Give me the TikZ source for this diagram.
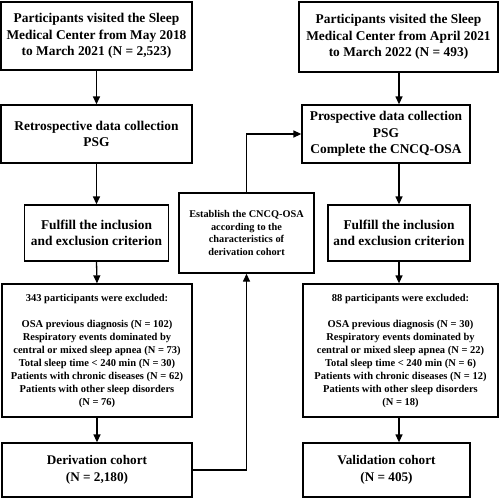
\documentclass[tikz,border=0pt]{standalone}
\usepackage{fontspec}
\setmainfont{Liberation Serif}
\usetikzlibrary{arrows.meta}
\begin{document}
\begin{tikzpicture}[x=1pt,y=-1pt,
  box/.style={draw,line width=1.3pt,align=center,inner sep=0pt,font=\bfseries},
  big/.style={font=\fontsize{13.4}{16.3}\selectfont\bfseries},
  small/.style={font=\fontsize{10.5}{13}\selectfont\bfseries},
  tiny/.style={font=\fontsize{10.3}{12.9}\selectfont\bfseries},
  huge/.style={font=\fontsize{13.2}{17}\selectfont\bfseries},
  arr/.style={line width=1.3pt,-{Triangle[length=8pt,width=7pt]}}]
\useasboundingbox (0,0) rectangle (500,498);
\node[box,big,minimum width=191,minimum height=68] (b1) at (96.5,36) {Participants visited the Sleep\\Medical Center from May 2018\\to March 2021 (N = 2,523)};
\node[box,big,minimum width=191,minimum height=58] (b2) at (96.5,134) {Retrospective data collection\\PSG};
\node[box,big,minimum width=144,minimum height=56] (b3) at (96.5,233) {Fulfill the inclusion\\and exclusion criterion};
\node[box,small,minimum width=190,minimum height=133] (b4) at (97,350.5) {343 participants were excluded:\\[13pt]OSA previous diagnosis (N = 102)\\Respiratory events dominated by\\central or mixed sleep apnea (N = 73)\\Total sleep time < 240 min (N = 30)\\Patients with chronic diseases (N = 62)\\Patients with other sleep disorders\\(N = 76)};
\node[box,huge,minimum width=190,minimum height=54] (b5) at (97,470) {Derivation cohort\\(N = 2,180)};
\node[box,tiny,minimum width=135,minimum height=80] (m) at (246.5,233) {Establish the CNCQ-OSA\\according to the\\characteristics of\\derivation cohort};
\node[box,big,minimum width=199,minimum height=70] (r1) at (398.5,37) {Participants visited the Sleep\\Medical Center from April 2021\\to March 2022 (N = 493)};
\node[box,big,minimum width=168,minimum height=58] (r2) at (386,134) {Prospective data collection\\PSG\\Complete the CNCQ-OSA};
\node[box,big,minimum width=142,minimum height=56] (r3) at (399,233) {Fulfill the inclusion\\and exclusion criterion};
\node[box,small,minimum width=195,minimum height=133] (r4) at (400.5,350.5) {88 participants were excluded:\\[13pt]OSA previous diagnosis (N = 30)\\Respiratory events dominated by\\central or mixed sleep apnea (N = 22)\\Total sleep time < 240 min (N = 6)\\Patients with chronic diseases (N = 12)\\Patients with other sleep disorders\\(N = 18)};
\node[box,huge,minimum width=167,minimum height=54] (r5) at (386.5,470) {Validation cohort\\(N = 405)};
\draw[arr] (b1.south) -- (b2.north);
\draw[arr] (b2.south) -- (b3.north);
\draw[arr] (b3.south) -- (b4.north);
\draw[arr] (b4.south) -- (b5.north);
\draw[arr] (r3.north |- r1.south) -- (r3.north |- r2.north);
\draw[arr] (r3.north |- r2.south) -- (r3.north);
\draw[arr] (r3.south) -- (r3.south |- r4.north);
\draw[arr] (r3.south |- r4.south) -- (r3.south |- r5.north);
\draw[arr] (b5.east) -| (m.south);
\draw[arr] (m.north) |- (r2.west);
\end{tikzpicture}
\end{document}
